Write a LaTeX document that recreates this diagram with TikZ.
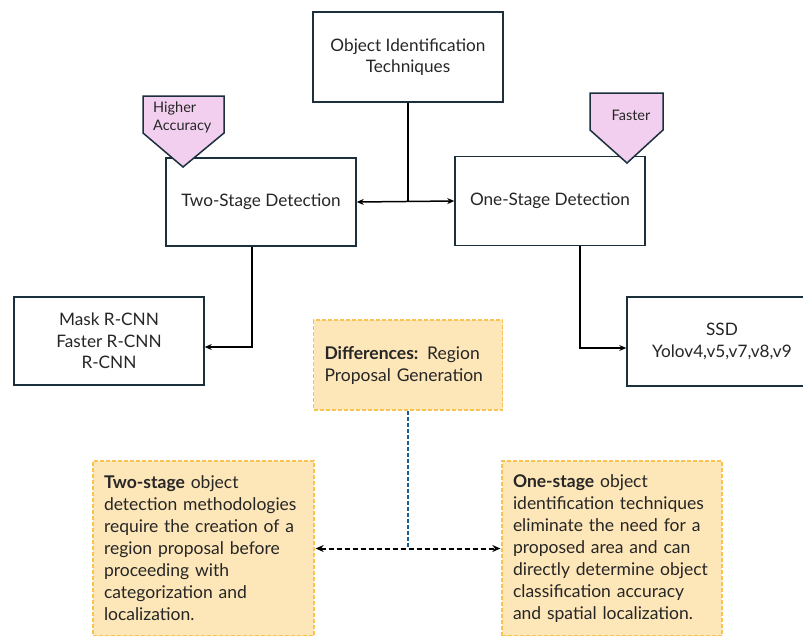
\documentclass[tikz,border=0pt]{standalone}
\usepackage{fontspec}
\setmainfont{Lato}
\usetikzlibrary{arrows.meta}
\definecolor{navy}{HTML}{1B2F3D}
\definecolor{pinkf}{HTML}{F2CFEE}
\definecolor{orf}{HTML}{FDE6B8}
\definecolor{ord}{HTML}{F8C34E}
\definecolor{bluedash}{HTML}{1A5F94}
\definecolor{txt}{HTML}{262626}
\tikzset{
  box/.style={draw=navy, line width=1.5pt, fill=white, minimum width=190pt, minimum height=89pt,
    align=center, inner sep=0pt, text=txt, font=\fontsize{17.2}{21.5}\selectfont},
  note/.style={draw=ord, dash pattern=on 4pt off 2pt, line width=1.3pt, fill=orf, align=left,
    inner xsep=11pt, inner ysep=0pt, text=txt, font=\fontsize{17.5}{22}\selectfont},
  pent/.style={draw=navy, line width=1.5pt, fill=pinkf},
  tag/.style={text=txt, font=\fontsize{14.5}{18}\selectfont, align=left, inner sep=0pt},
  conn/.style={line width=1.5pt, -{Stealth[length=7pt,width=6pt]}},
}
\begin{document}
\begin{tikzpicture}[x=1pt,y=-1pt]
\useasboundingbox (0,0) rectangle (803,635);
\clip (0,0) rectangle (803,635);
\fill[white] (0,0) rectangle (803,635);

\node[box, minimum height=90pt] (top) at (408,57) {Object Identification\\Techniques};
\node[box, minimum height=88pt] (two) at (261,202) {Two-Stage Detection};
\node[box, minimum height=89pt] (one) at (550,201) {One-Stage Detection};
\node[box, minimum height=88pt] (mask) at (109,341) {Mask R-CNN\\Faster R-CNN\\R-CNN};
\node[box, minimum height=89pt] (ssd) at (722,341.5) {SSD\\Yolov4,v5,v7,v8,v9};

\draw[pent] (143,96) -- (224,96) -- (224,133) -- (183,167) -- (143,133) -- cycle;
\node[tag, anchor=west] (hi) at (153,117) {Higher\\Accuracy};
\draw[pent] (590,93) -- (663,93) -- (663,130) -- (627,163) -- (590,130) -- cycle;
\node[tag] (fa) at (631,115) {Faster};

\draw[line width=1.5pt] (top.south) -- (top.south |- one.west);
\draw[line width=1.5pt, {Stealth[length=7pt,width=6pt]}-{Stealth[length=7pt,width=6pt]}] (two.east) -- (one.west);
\draw[conn] ([xshift=-9pt]two.south) |- ([yshift=-6pt]mask.east);
\draw[conn] ([xshift=30pt]one.south) |- ([yshift=-6.5pt]ssd.west);

\node[note, text width=167pt, minimum height=90pt] (diff) at (408,365)
  {\textbf{Differences:} Region\\Proposal Generation};
\node[note, text width=199pt, minimum height=175pt] (twonote) at (203.5,548.5)
  {\textbf{Two-stage} object\\detection methodologies\\require the creation of a\\region proposal before\\proceeding with\\categorization and\\localization.};
\node[note, text width=198pt, minimum height=175pt] (onenote) at (612,548.5)
  {\textbf{One-stage} object\\identification techniques\\eliminate the need for a\\proposed area and can\\directly determine object\\classification accuracy\\and spatial localization.};

\draw[bluedash, line width=2pt, dash pattern=on 4pt off 2pt] (diff.south) -- (diff.south |- twonote.east);
\draw[line width=2pt, dash pattern=on 5pt off 3pt, {Stealth[length=8pt,width=7pt]}-{Stealth[length=8pt,width=7pt]}]
  ([xshift=1pt]twonote.east) -- ([xshift=-1pt]onenote.west);
\end{tikzpicture}
\end{document}
